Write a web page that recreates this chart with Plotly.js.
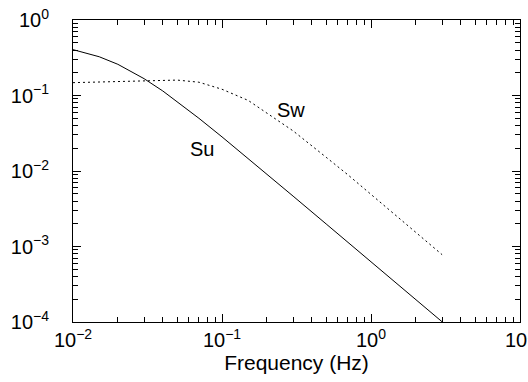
<!DOCTYPE html>
<html>
<head>
<meta charset="utf-8">
<script src="https://cdn.plot.ly/plotly-3.0.1.min.js"></script>
<style>html,body{margin:0;padding:0;background:#fff;}#plot{width:528px;height:382px;}</style>
</head>
<body>
<div id="plot"></div>
<script>
// Frequency (Hz)
var freq = [0.01, 0.015, 0.02, 0.03, 0.04, 0.05, 0.07, 0.1, 0.15, 0.2, 0.3, 0.5, 0.7, 1, 1.5, 2, 3];
// Su spectrum (solid)
var su = [0.405, 0.326, 0.259, 0.167, 0.115, 0.0833, 0.0499, 0.0283, 0.01462, 0.00909, 0.00465, 0.00199, 0.001136, 0.000627, 0.000319, 0.000198, 0.0001007];
// Sw spectrum (dotted)
var sw = [0.148, 0.151, 0.154, 0.158, 0.160, 0.160, 0.150, 0.121, 0.086, 0.058, 0.034, 0.0152, 0.0089, 0.0049, 0.00248, 0.00153, 0.00078];
var labels = ["Su", "Sw"];
var xTitle = "Frequency (Hz)";
var xTickVals = [0.01, 0.1, 1, 10];
var xTickText = ["10<sup>\u22122</sup>", "10<sup>\u22121</sup>", "10<sup>0</sup>", "10<sup>1</sup>"];
var yTickVals = [0.0001, 0.001, 0.01, 0.1, 1];
var yTickText = ["10<sup>\u22124</sup>", "10<sup>\u22123</sup>", "10<sup>\u22122</sup>", "10<sup>\u22121</sup>", "10<sup>0</sup>"];

var FONT = "Liberation Sans, Arial, Helvetica, sans-serif";

function minorVals(d0, d1) {
  var out = [];
  for (var d = d0; d < d1; d++) {
    for (var k = 2; k <= 9; k++) out.push(k * Math.pow(10, d));
  }
  return out;
}

var traces = [
  {x: freq, y: su, mode: "lines", line: {color: "#000", width: 1}, name: labels[0]},
  {x: freq, y: sw, mode: "lines", line: {color: "#000", width: 1, dash: "2px,3px"}, name: labels[1]}
];

function axis(vals, text, mvals) {
  return {
    type: "log",
    tickmode: "array",
    tickvals: vals,
    ticktext: text,
    showgrid: false,
    zeroline: false,
    showline: true,
    linecolor: "#000",
    linewidth: 1,
    mirror: "allticks",
    ticks: "inside",
    ticklen: 8,
    tickwidth: 1,
    tickcolor: "#000",
    ticklabeloverflow: "allow",
    minor: {tickmode: "array", tickvals: mvals, ticks: "inside", ticklen: 5, tickwidth: 1, tickcolor: "#000", showgrid: false},
    tickfont: {family: FONT, size: 20, color: "#000"}
  };
}

var layout = {
  width: 528, height: 382,
  paper_bgcolor: "#fff", plot_bgcolor: "#fff",
  margin: {l: 73, r: 8, t: 20, b: 60},
  showlegend: false,
  font: {family: FONT, color: "#000"},
  xaxis: Object.assign(axis(xTickVals, xTickText, minorVals(-2, 1)), {
    range: [-2, 1],
    ticklabelstandoff: 0,
    title: {text: xTitle, font: {family: FONT, size: 21, color: "#000"}, standoff: 2}
  }),
  yaxis: Object.assign(axis(yTickVals, yTickText, minorVals(-4, 0)), {
    range: [-4, 0],
    ticklabelstandoff: 19
  }),
  annotations: [
    {x: -1.131, y: -1.709, xref: "x", yref: "y", text: labels[0], showarrow: false,
     font: {family: FONT, size: 20, color: "#000"}},
    {x: -0.538, y: -1.192, xref: "x", yref: "y", text: labels[1], showarrow: false,
     font: {family: FONT, size: 20, color: "#000"}}
  ]
};

Plotly.newPlot("plot", traces, layout, {displayModeBar: false, staticPlot: true});
</script>
</body>
</html>
